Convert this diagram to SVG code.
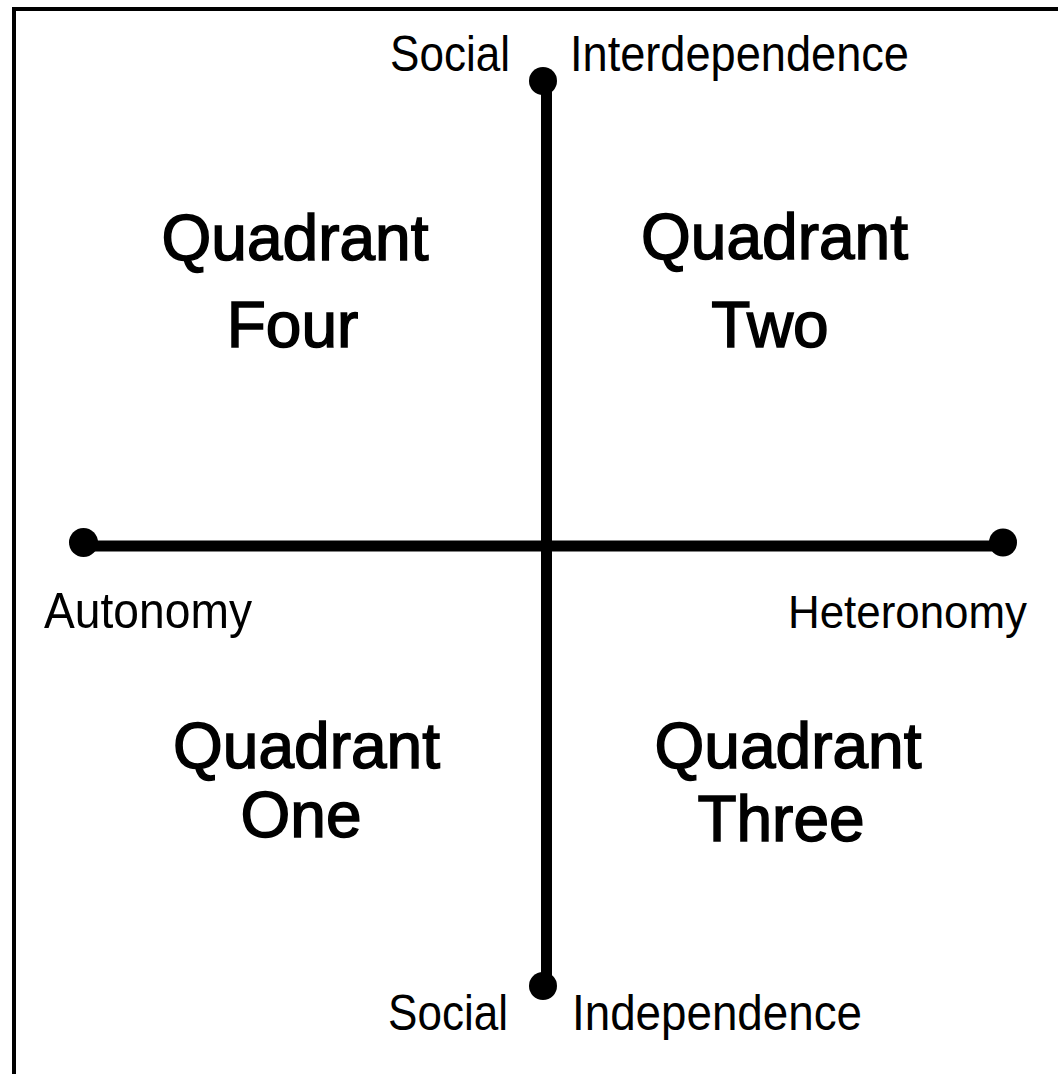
<svg xmlns="http://www.w3.org/2000/svg" width="1058" height="1074" viewBox="0 0 1058 1074">
  <style>
    .small { font-family: "Liberation Sans", Arial, sans-serif; font-size: 50px; fill: #000; }
    .big { font-family: "Liberation Sans", Arial, sans-serif; font-size: 64px; fill: #000; stroke: #000; stroke-width: 1.5; text-anchor: middle; }
    .axis { stroke: #000; stroke-width: 11; fill: none; }
    .dot { fill: #000; }
  </style>
  <rect width="1058" height="1074" fill="#fff"/>
  <path d="M14,1074 V9 H1058" fill="none" stroke="#000" stroke-width="4"/>

  <g id="connectors">
    <line class="axis" x1="546.5" y1="81" x2="546.5" y2="986"/>
    <line class="axis" x1="83" y1="546" x2="1003" y2="546"/>
  </g>

  <g id="top-end">
    <circle class="dot" cx="543" cy="81" r="14"/>
    <text class="small" x="390" y="71" textLength="120" lengthAdjust="spacingAndGlyphs">Social</text>
    <text class="small" x="570" y="71" textLength="339" lengthAdjust="spacingAndGlyphs">Interdependence</text>
  </g>
  <g id="bottom-end">
    <circle class="dot" cx="543" cy="986" r="14"/>
    <text class="small" x="388" y="1030" textLength="120" lengthAdjust="spacingAndGlyphs">Social</text>
    <text class="small" x="572" y="1030" textLength="290" lengthAdjust="spacingAndGlyphs">Independence</text>
  </g>
  <g id="left-end">
    <circle class="dot" cx="83.5" cy="542.5" r="14.5"/>
    <text class="small" x="44" y="628" textLength="208" lengthAdjust="spacingAndGlyphs">Autonomy</text>
  </g>
  <g id="right-end">
    <circle class="dot" cx="1003" cy="542.5" r="14"/>
    <text class="small" x="788" y="628" style="font-size:46px" textLength="239" lengthAdjust="spacingAndGlyphs">Heteronomy</text>
  </g>

  <g id="quadrant-four">
    <text class="big" x="295" y="260">Quadrant</text>
    <text class="big" x="292.5" y="347">Four</text>
  </g>
  <g id="quadrant-two">
    <text class="big" x="774.5" y="259">Quadrant</text>
    <text class="big" x="770" y="347">Two</text>
  </g>
  <g id="quadrant-one">
    <text class="big" x="306.5" y="768">Quadrant</text>
    <text class="big" x="301" y="837">One</text>
  </g>
  <g id="quadrant-three">
    <text class="big" x="788" y="768">Quadrant</text>
    <text class="big" x="781" y="841">Three</text>
  </g>
</svg>
